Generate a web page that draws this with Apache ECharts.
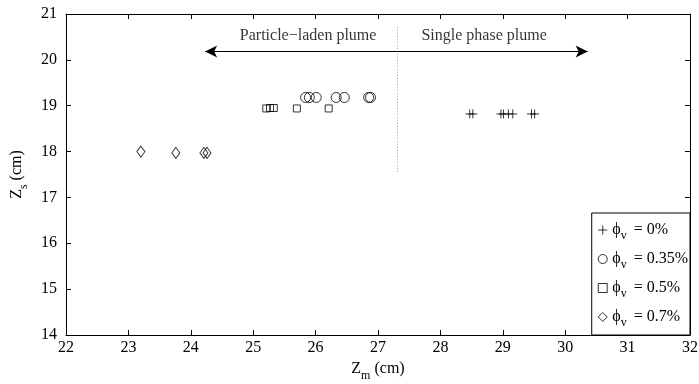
<!DOCTYPE html>
<html>
<head>
<meta charset="utf-8">
<script src="https://cdn.jsdelivr.net/npm/echarts@6/dist/echarts.min.js"></script>
<style>
  html, body { margin: 0; padding: 0; background: #fff; }
  #chart { width: 699px; height: 384px; }
</style>
</head>
<body>
<div id="chart"></div>
<script>
// Interface height Z_s versus mixing height Z_m for four particle volume fractions
const phi0_x   = [28.47, 28.52, 28.97, 29.01, 29.09, 29.16, 29.46, 29.51];
const phi0_y   = [18.82, 18.82, 18.82, 18.82, 18.82, 18.82, 18.82, 18.82];
const phi035_x = [25.84, 25.90, 26.01, 26.33, 26.46, 26.85, 26.88];
const phi035_y = [19.18, 19.18, 19.18, 19.18, 19.18, 19.18, 19.18];
const phi05_x  = [25.21, 25.27, 25.33, 25.70, 26.21];
const phi05_y  = [18.94, 18.95, 18.95, 18.94, 18.94];
const phi07_x  = [23.20, 23.76, 24.21, 24.26];
const phi07_y  = [18.00, 17.97, 17.97, 17.97];

const seriesNames = ['0%', '0.35%', '0.5%', '0.7%'];
const xTicks = [22, 23, 24, 25, 26, 27, 28, 29, 30, 31, 32];
const yTicks = [14, 15, 16, 17, 18, 19, 20, 21];

// Regime boundary and the two regime arrows
const boundaryX = 27.31;
const boundaryY = [17.56, 20.72];
const arrowY = 20.18;
const arrowEnds = [24.23, 30.36];
const regimeLabels = ['Particle\u2212laden plume', 'Single phase plume'];
const regimeLabelX = [25.88, 28.70];
const regimeLabelY = 20.52;

const zip = (xs, ys) => xs.map((x, i) => [x, ys[i]]);
const FONT = '"Liberation Serif", "DejaVu Serif", serif';
const plusPath = 'path://M0,5L10,5M5,0L5,10';

const chart = echarts.init(document.getElementById('chart'));

const axisCommon = {
  type: 'value',
  axisLine: { show: true, lineStyle: { color: '#000', width: 1 } },
  axisTick: { show: true, inside: true, length: 5, lineStyle: { color: '#000' } },
  splitLine: { show: false }
};

const markerStyle = (symbol, size) => ({
  type: 'scatter',
  symbol: symbol,
  symbolSize: size,
  itemStyle: { color: 'rgba(0,0,0,0)', borderColor: '#000', borderWidth: 1 },
  emphasis: { disabled: true }
});

const legendName = n => '{p|\u03d5}{s|v}{t| = ' + n + '}';

chart.setOption({
  animation: false,
  backgroundColor: '#fff',
  grid: { left: 66, right: 9, top: 14, bottom: 49, containLabel: false, outerBoundsMode: 'none' },
  xAxis: [
    Object.assign({}, axisCommon, {
      position: 'bottom', min: xTicks[0], max: xTicks[xTicks.length - 1], interval: 1,
      axisLabel: { color: '#000', fontFamily: FONT, fontSize: 16, margin: 5 },
      name: '{z|Z}{s|m}{z| (cm)}',
      nameLocation: 'middle', nameGap: 18,
      nameTextStyle: {
        color: '#000',
        rich: {
          z: { fontFamily: FONT, fontSize: 16, color: '#000' },
          s: { fontFamily: FONT, fontSize: 12, color: '#000', padding: [14, 0, 0, 0] }
        }
      }
    }),
    Object.assign({}, axisCommon, {
      position: 'top', min: xTicks[0], max: xTicks[xTicks.length - 1], interval: 1,
      axisLabel: { show: false }
    })
  ],
  yAxis: [
    Object.assign({}, axisCommon, {
      position: 'left', min: yTicks[0], max: yTicks[yTicks.length - 1], interval: 1,
      axisLabel: { color: '#000', fontFamily: FONT, fontSize: 16, margin: 9 },
      name: '{z|Z}{s|s}{z| (cm)}',
      nameLocation: 'middle', nameGap: 32, nameRotate: 90,
      nameTextStyle: {
        color: '#000',
        rich: {
          z: { fontFamily: FONT, fontSize: 16, color: '#000' },
          s: { fontFamily: FONT, fontSize: 12, color: '#000', padding: [14, 0, 0, 0] }
        }
      }
    }),
    Object.assign({}, axisCommon, {
      position: 'right', min: yTicks[0], max: yTicks[yTicks.length - 1], interval: 1,
      axisLabel: { show: false }
    })
  ],
  legend: {
    data: seriesNames,
    orient: 'vertical',
    right: 9,
    bottom: 49,
    padding: [9, 2, 6, 6],
    itemGap: 9,
    itemWidth: 9,
    itemHeight: 9,
    borderColor: '#000',
    borderWidth: 1,
    backgroundColor: '#fff',
    itemStyle: { borderWidth: 1 },
    formatter: legendName,
    textStyle: {
      color: '#000',
      rich: {
        p: { fontFamily: FONT, fontSize: 16, color: '#000' },
        s: { fontFamily: FONT, fontSize: 12, color: '#000', padding: [12, 3, 0, 0] },
        t: { fontFamily: FONT, fontSize: 16, color: '#000' }
      }
    }
  },
  series: [
    Object.assign(markerStyle(plusPath, 9), { name: seriesNames[0], data: zip(phi0_x, phi0_y) }),
    Object.assign(markerStyle('circle', 10), { name: seriesNames[1], data: zip(phi035_x, phi035_y) }),
    Object.assign(markerStyle('rect', 7), { name: seriesNames[2], data: zip(phi05_x, phi05_y) }),
    Object.assign(markerStyle('diamond', [8, 11]), { name: seriesNames[3], data: zip(phi07_x, phi07_y) }),
    {
      // regime annotations: dotted boundary, arrows and their captions
      type: 'scatter',
      name: 'regimes',
      symbolSize: 0,
      silent: true,
      data: regimeLabelX.map((x, i) => ({
        value: [x, regimeLabelY],
        label: {
          show: true, position: 'inside', formatter: regimeLabels[i],
          fontFamily: FONT, fontSize: 16, color: '#000'
        }
      })),
      markLine: {
        silent: true,
        animation: false,
        label: { show: false },
        emphasis: { disabled: true },
        data: [
          [
            { coord: [boundaryX, boundaryY[0]], symbol: 'none', lineStyle: { type: [1, 2], color: '#999', width: 1 } },
            { coord: [boundaryX, boundaryY[1]], symbol: 'none' }
          ],
          [
            { coord: [boundaryX, arrowY], symbol: 'none', lineStyle: { type: 'solid', color: '#000', width: 1.2 } },
            { coord: [arrowEnds[0], arrowY], symbol: 'arrow', symbolSize: [9, 12] }
          ],
          [
            { coord: [boundaryX, arrowY], symbol: 'none', lineStyle: { type: 'solid', color: '#000', width: 1.2 } },
            { coord: [arrowEnds[1], arrowY], symbol: 'arrow', symbolSize: [9, 12] }
          ]
        ]
      }
    }
  ]
});
</script>
</body>
</html>
